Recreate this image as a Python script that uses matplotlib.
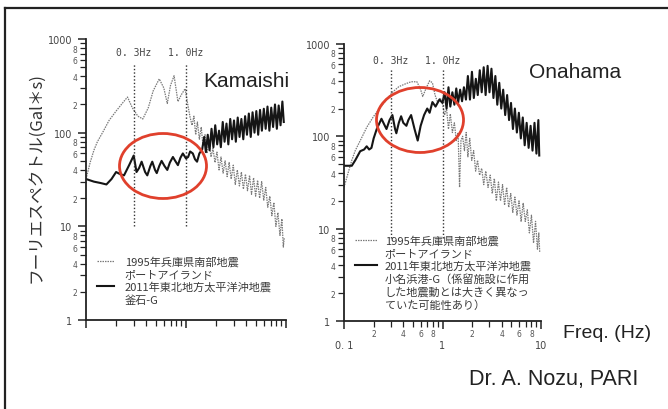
import matplotlib.pyplot as plt
from matplotlib.lines import Line2D
from matplotlib.patches import Ellipse
from matplotlib.ticker import FixedLocator, FixedFormatter, NullFormatter

# --- DATA: Fourier spectra (Hz, Gal*s) ---
kobe_kam_f = [0.10, 0.11, 0.12, 0.13, 0.15, 0.17, 0.20, 0.23, 0.26, 0.29,
              0.33, 0.37, 0.42, 0.47, 0.54, 0.60, 0.65, 0.70, 0.76, 0.80,
              0.83, 0.90, 0.98, 1.05, 1.10, 1.15, 1.20, 1.25, 1.30, 1.36,
              1.42, 1.48, 1.55, 1.62, 1.70, 1.78, 1.86, 1.95, 2.04, 2.14,
              2.24, 2.35, 2.46, 2.58, 2.70, 2.83, 2.97, 3.11, 3.26, 3.42,
              3.58, 3.75, 3.93, 4.12, 4.32, 4.52, 4.74, 4.97, 5.20, 5.45,
              5.71, 5.99, 6.27, 6.57, 6.89, 7.22, 7.56, 7.92, 8.30, 8.70,
              9.10, 9.40, 9.60]
kobe_kam_a = [32, 48, 65, 80, 105, 135, 170, 205, 240, 185,
              150, 140, 185, 280, 375, 300, 205, 320, 405, 280,
              215, 255, 295, 190, 145, 120, 150, 95, 130, 85,
              115, 72, 95, 60, 80, 55, 68, 48, 62, 40,
              55, 37, 50, 34, 48, 32, 45, 28, 40, 27,
              38, 25, 36, 24, 35, 22, 33, 21, 31, 20,
              30, 19, 26, 16, 21, 13, 18, 10, 14, 8,
              12, 6.0, 7.5]

kamaishi_f = [0.10, 0.12, 0.14, 0.16, 0.18, 0.20, 0.22, 0.24, 0.27, 0.30,
              0.32, 0.34, 0.36, 0.39, 0.41, 0.44, 0.46, 0.49, 0.51, 0.54,
              0.57, 0.61, 0.65, 0.69, 0.74, 0.78, 0.83, 0.88, 0.93, 1.00,
              1.05, 1.10, 1.17, 1.23, 1.29, 1.36, 1.45, 1.52, 1.58, 1.65,
              1.72, 1.80, 1.88, 1.96, 2.05, 2.14, 2.23, 2.33, 2.43, 2.54,
              2.65, 2.77, 2.89, 3.02, 3.15, 3.29, 3.43, 3.58, 3.74, 3.90,
              4.07, 4.25, 4.44, 4.63, 4.84, 5.05, 5.27, 5.50, 5.74, 6.00,
              6.26, 6.53, 6.82, 7.12, 7.43, 7.76, 8.10, 8.45, 8.82, 9.20,
              9.50]
kamaishi_a = [32, 30, 29, 28, 32, 38, 36, 35, 45, 57,
              38, 42, 49, 38, 35, 44, 49, 40, 37, 44,
              50, 44, 40, 48, 55, 50, 45, 54, 60, 53,
              55, 63, 60, 52, 49, 60, 66, 90, 62, 95,
              65, 110, 70, 120, 75, 105, 70, 130, 80, 125,
              75, 140, 85, 135, 80, 145, 90, 140, 85, 150,
              95, 160, 90, 165, 100, 170, 95, 175, 105, 180,
              110, 190, 105, 185, 115, 200, 110, 195, 120, 215,
              130]

kobe_ona_f = [0.10, 0.11, 0.12, 0.13, 0.15, 0.17, 0.20, 0.23, 0.27, 0.31,
              0.36, 0.42, 0.48, 0.55, 0.60, 0.63, 0.68, 0.74, 0.79, 0.84,
              0.89, 0.95, 1.00, 1.05, 1.10, 1.15, 1.20, 1.26, 1.32, 1.38,
              1.44, 1.49, 1.54, 1.60, 1.67, 1.74, 1.81, 1.89, 1.98, 2.07,
              2.17, 2.27, 2.38, 2.50, 2.62, 2.75, 2.90, 3.05, 3.20, 3.36,
              3.52, 3.70, 3.88, 4.07, 4.27, 4.48, 4.70, 4.93, 5.17, 5.43,
              5.70, 5.98, 6.28, 6.59, 6.92, 7.26, 7.62, 8.00, 8.40, 8.80,
              9.20, 9.50, 9.70]
kobe_ona_a = [28, 40, 55, 70, 95, 125, 165, 200, 250, 300,
              345, 370, 390, 390, 320, 270, 330, 400, 380, 280,
              235, 260, 225, 170, 200, 120, 175, 110, 140, 90,
              110, 28, 90, 100, 70, 110, 60, 95, 55, 70,
              42, 55, 38, 45, 30, 42, 28, 38, 24, 35,
              20, 32, 20, 30, 18, 28, 17, 24, 15, 22,
              14, 20, 12, 19, 12, 16, 9, 14, 7, 12,
              6, 9, 5.6]

onahama_f = [0.10, 0.11, 0.12, 0.13, 0.146, 0.16, 0.17, 0.18, 0.19, 0.20,
             0.215, 0.24, 0.26, 0.27, 0.29, 0.31, 0.33, 0.34, 0.36, 0.38,
             0.40, 0.43, 0.45, 0.48, 0.52, 0.56, 0.60, 0.65, 0.70, 0.74,
             0.79, 0.85, 0.93, 1.00, 1.05, 1.10, 1.15, 1.20, 1.26, 1.32,
             1.38, 1.44, 1.51, 1.58, 1.65, 1.73, 1.81, 1.90, 1.99, 2.08,
             2.18, 2.28, 2.39, 2.50, 2.62, 2.74, 2.87, 3.00, 3.14, 3.29,
             3.44, 3.60, 3.77, 3.95, 4.13, 4.33, 4.53, 4.74, 4.96, 5.19,
             5.43, 5.69, 5.96, 6.24, 6.53, 6.83, 7.15, 7.49, 7.84, 8.20,
             8.59, 8.99, 9.40, 9.60]
onahama_a = [48, 48, 48, 55, 69, 72, 78, 72, 75, 95,
             120, 155, 130, 120, 150, 170, 120, 108, 140, 165,
             140, 130, 150, 170, 120, 90, 130, 170, 200, 180,
             235, 210, 250, 230, 300, 200, 340, 210, 300, 220,
             330, 230, 320, 240, 340, 250, 450, 250, 500, 260,
             420, 280, 520, 300, 560, 280, 580, 300, 540, 260,
             450, 220, 380, 200, 320, 170, 280, 150, 230, 120,
             200, 110, 180, 95, 160, 80, 140, 75, 130, 70,
             140, 65, 150, 62]

marker_freqs = [0.3, 1.0]
marker_labels = ["0. 3Hz", "1. 0Hz"]

kobe_label = ["1995年兵庫県南部地震", "ポートアイランド"]
kamaishi_label = ["2011年東北地方太平洋沖地震", "釜石-G"]
onahama_label = ["2011年東北地方太平洋沖地震", "小名浜港-G（係留施設に作用",
                 "した地震動とは大きく異なっ", "ていた可能性あり）"]

JP = ["Noto Sans CJK JP", "DejaVu Sans"]
KOBE_STYLE = dict(color="#7a7a7a", linewidth=0.9, linestyle=(0, (1.2, 0.8)))
MAIN_STYLE = dict(color="#151515", linewidth=1.5)


def style_axis(ax, show_xlabels):
    ax.set_xscale("log")
    ax.set_yscale("log")
    ax.set_xlim(0.1, 10)
    ax.set_ylim(1, 1000)
    ax.spines["top"].set_visible(False)
    ax.spines["right"].set_visible(False)
    for side in ("left", "bottom"):
        ax.spines[side].set_linewidth(1.3)
        ax.spines[side].set_color("#222222")

    ax.yaxis.set_major_locator(FixedLocator([1, 10, 100, 1000]))
    ax.yaxis.set_major_formatter(FixedFormatter(["1", "10", "100", "1000"]))
    y_minor = [m * d for d in (1, 10, 100) for m in range(2, 10)]
    y_minor_lab = [str(m) if m % 2 == 0 else "" for d in (1, 10, 100) for m in range(2, 10)]
    ax.yaxis.set_minor_locator(FixedLocator(y_minor))
    ax.yaxis.set_minor_formatter(FixedFormatter(y_minor_lab))

    ax.xaxis.set_major_locator(FixedLocator([0.1, 1, 10]))
    x_minor = [m * d for d in (0.1, 1) for m in range(2, 10)]
    ax.xaxis.set_minor_locator(FixedLocator(x_minor))
    if show_xlabels:
        ax.xaxis.set_major_formatter(FixedFormatter(["0. 1", "1", "10"]))
        x_minor_lab = [str(m) if m % 2 == 0 else "" for d in (0.1, 1) for m in range(2, 10)]
        ax.xaxis.set_minor_formatter(FixedFormatter(x_minor_lab))
    else:
        ax.xaxis.set_major_formatter(NullFormatter())
        ax.xaxis.set_minor_formatter(NullFormatter())

    ax.tick_params(axis="y", which="major", direction="out", length=6, width=1.1,
                   pad=4, labelsize=7, labelcolor="#444444", color="#222222")
    ax.tick_params(axis="y", which="minor", direction="out", length=4, width=0.9,
                   pad=2, labelsize=5.5, labelcolor="#555555", color="#222222")
    ax.tick_params(axis="x", which="major", direction="out", length=6, width=1.1,
                   pad=8, labelsize=7, labelcolor="#444444", color="#222222")
    ax.tick_params(axis="x", which="minor", direction="out", length=4, width=0.9,
                   pad=2, labelsize=5.5, labelcolor="#555555", color="#222222")
    ax.patch.set_alpha(0)


def add_markers(ax, y_low, y_high, y_text):
    ax.vlines(marker_freqs, y_low, y_high, colors="#333333", linestyles=(0, (1, 1.5)),
              linewidth=1.0)
    for fr, lab in zip(marker_freqs, marker_labels):
        ax.text(fr, y_text, lab, ha="center", va="center", fontsize=7,
                family="DejaVu Sans Mono", color="#444444")


def add_legend(ax, h_kobe, h_main, main_lines, anchor, hlen, hpad):
    blank = Line2D([], [], linestyle="none")
    handles = [h_kobe, blank, h_main] + [blank] * (len(main_lines) - 1)
    labels = kobe_label + main_lines
    leg = ax.legend(handles, labels, loc="upper left", bbox_to_anchor=anchor,
                    frameon=False, handlelength=hlen, handletextpad=hpad,
                    labelspacing=0.2, borderpad=0, borderaxespad=0,
                    prop={"family": JP, "size": 8})
    for t in leg.get_texts():
        t.set_color("#3a3a3a")


fig = plt.figure(figsize=(6.68, 4.10), dpi=100)
fig.patch.set_facecolor("white")

# --- LEFT PANEL: KAMAISHI ---
ax1 = fig.add_axes([86 / 668, 89 / 410, 200 / 668, 281 / 410])
style_axis(ax1, show_xlabels=False)
k1, = ax1.plot(kobe_kam_f, kobe_kam_a, **KOBE_STYLE)
m1, = ax1.plot(kamaishi_f, kamaishi_a, **MAIN_STYLE)
add_markers(ax1, 10, 540, 730)
add_legend(ax1, k1, m1, kamaishi_label, (0.055, 0.228), 1.5, 1.0)

# --- RIGHT PANEL: ONAHAMA ---
ax2 = fig.add_axes([344 / 668, 88 / 410, 197 / 668, 277 / 410])
style_axis(ax2, show_xlabels=True)
k2, = ax2.plot(kobe_ona_f, kobe_ona_a, **KOBE_STYLE)
m2, = ax2.plot(onahama_f, onahama_a, **MAIN_STYLE)
add_markers(ax2, 8, 535, 670)
add_legend(ax2, k2, m2, onahama_label, (0.055, 0.31), 2.0, 0.7)

# red ellipses around 0.3-1 Hz band
for cx, cy in ((1.63, 2.43), (4.20, 2.89)):
    fig.add_artist(Ellipse((cx, cy), 0.87, 0.65, transform=fig.dpi_scale_trans,
                           fill=False, edgecolor="#e0402c", linewidth=2.0))

# frame lines
fig.add_artist(Line2D([5 / 668, 1], [1 - 9 / 410, 1 - 9 / 410], transform=fig.transFigure,
                      color="#222222", linewidth=1.6))
fig.add_artist(Line2D([5 / 668, 5 / 668], [0, 1 - 9 / 410], transform=fig.transFigure,
                      color="#222222", linewidth=1.6))

# --- TEXTS ---
fig.text(246 / 668, 1 - 82 / 410, "Kamaishi", ha="center", va="center",
         fontsize=15, family="Liberation Sans", color="#222222")
fig.text(575 / 668, 1 - 73 / 410, "Onahama", ha="center", va="center",
         fontsize=15, family="Liberation Sans", color="#222222")
fig.text(607 / 668, 1 - 333 / 410, "Freq. (Hz)", ha="center", va="center",
         fontsize=14, family="Liberation Sans", color="#222222")
fig.text(554 / 668, 1 - 380 / 410, "Dr. A. Nozu, PARI", ha="center", va="center",
         fontsize=15.5, family="Liberation Sans", color="#222222")
fig.text(36 / 668, 1 - 178 / 410, "フーリエスペクトル(Gal＊s)", ha="center", va="center",
         rotation=90, fontsize=12, family=JP, color="#333333")

fig.savefig("out.png", dpi=100, facecolor="white")
